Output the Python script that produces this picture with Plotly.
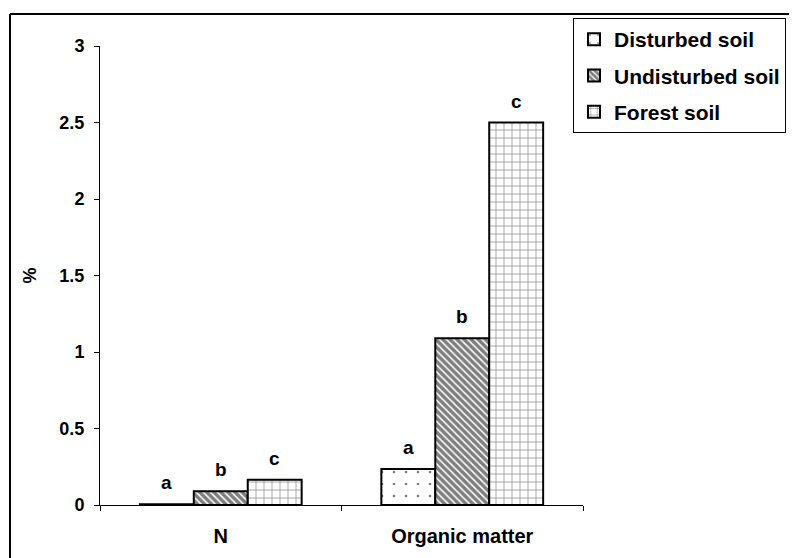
import plotly.graph_objects as go

categories = ["N", "Organic matter"]
series_names = ["Disturbed soil", "Undisturbed soil", "Forest soil"]
disturbed = [0.005, 0.235]
undisturbed = [0.09, 1.09]
forest = [0.165, 2.50]
letters = ["a", "b", "c"]
y_ticks = [0, 0.5, 1, 1.5, 2, 2.5, 3]
y_tick_labels = ["0", "0.5", "1", "1.5", "2", "2.5", "3"]

series_values = [disturbed, undisturbed, forest]
patterns = [
    dict(shape=".", size=12, solidity=0.04, fgcolor="black", bgcolor="white"),
    dict(shape="\\", size=5, solidity=0.7, fgcolor="black", bgcolor="white"),
    dict(shape="+", size=8, solidity=0.16, fgcolor="black", bgcolor="white"),
]

# the page body has an 8px margin, so the figure is 8px smaller than the window
W, H = 789, 550
ml, mt, mb = 92, 38, 53
pw = 483
mr = W - ml - pw
ph = H - mt - mb

FAM = "Liberation Sans, Arial"
def bold(size):
    return dict(family=FAM, size=size, color="black", weight="bold")

fig = go.Figure()
for i, (name, vals) in enumerate(zip(series_names, series_values)):
    fig.add_trace(go.Bar(
        name=name, x=categories, y=vals,
        marker=dict(color="white", line=dict(color="black", width=2), pattern=patterns[i]),
        legendgroup=name,
    ))

bargap = 0.33
bw = (1 - bargap) / 3
for i, vals in enumerate(series_values):
    for j, v in enumerate(vals):
        fig.add_annotation(x=j + (i - 1) * bw, y=v, text=letters[i], showarrow=False,
                           yanchor="bottom", yshift=9, font=bold(19))

# outer frame lines (left and top)
fx = (2 - ml) / pw
fy = (H - mb - 6) / ph
fig.add_shape(type="line", xref="paper", yref="paper", x0=fx, x1=fx, y0=fy, y1=-1, line=dict(color="black", width=2))
fig.add_shape(type="line", xref="paper", yref="paper", x0=fx, x1=2, y0=fy, y1=fy, line=dict(color="black", width=2))

fig.update_layout(
    width=W, height=H,
    margin=dict(l=ml, r=mr, t=mt, b=mb, autoexpand=False),
    paper_bgcolor="white", plot_bgcolor="white",
    barmode="group", bargap=bargap, bargroupgap=0,
    font=bold(18),
    showlegend=True,
    legend=dict(x=(565 - ml) / pw, y=(H - mb - 10) / ph, xanchor="left", yanchor="top",
                bordercolor="black", borderwidth=1, bgcolor="white",
                font=bold(21),
                traceorder="grouped", tracegroupgap=6, itemwidth=30),
    xaxis=dict(range=[-0.5, 1.5], showline=True, linecolor="black", linewidth=1,
               ticks="outside", tickson="boundaries", ticklen=5, tickcolor="black",
               ticklabelstandoff=13, showgrid=False, zeroline=False,
               tickfont=bold(20)),
    yaxis=dict(range=[0, 3], tickvals=y_ticks, ticktext=y_tick_labels,
               showline=True, linecolor="black", linewidth=1,
               ticks="outside", ticklen=5, tickcolor="black", showgrid=False, zeroline=False,
               ticklabelstandoff=6, tickfont=bold(18),
               title=dict(text="%", font=bold(18), standoff=18)),
)

fig.write_html("out.html")
